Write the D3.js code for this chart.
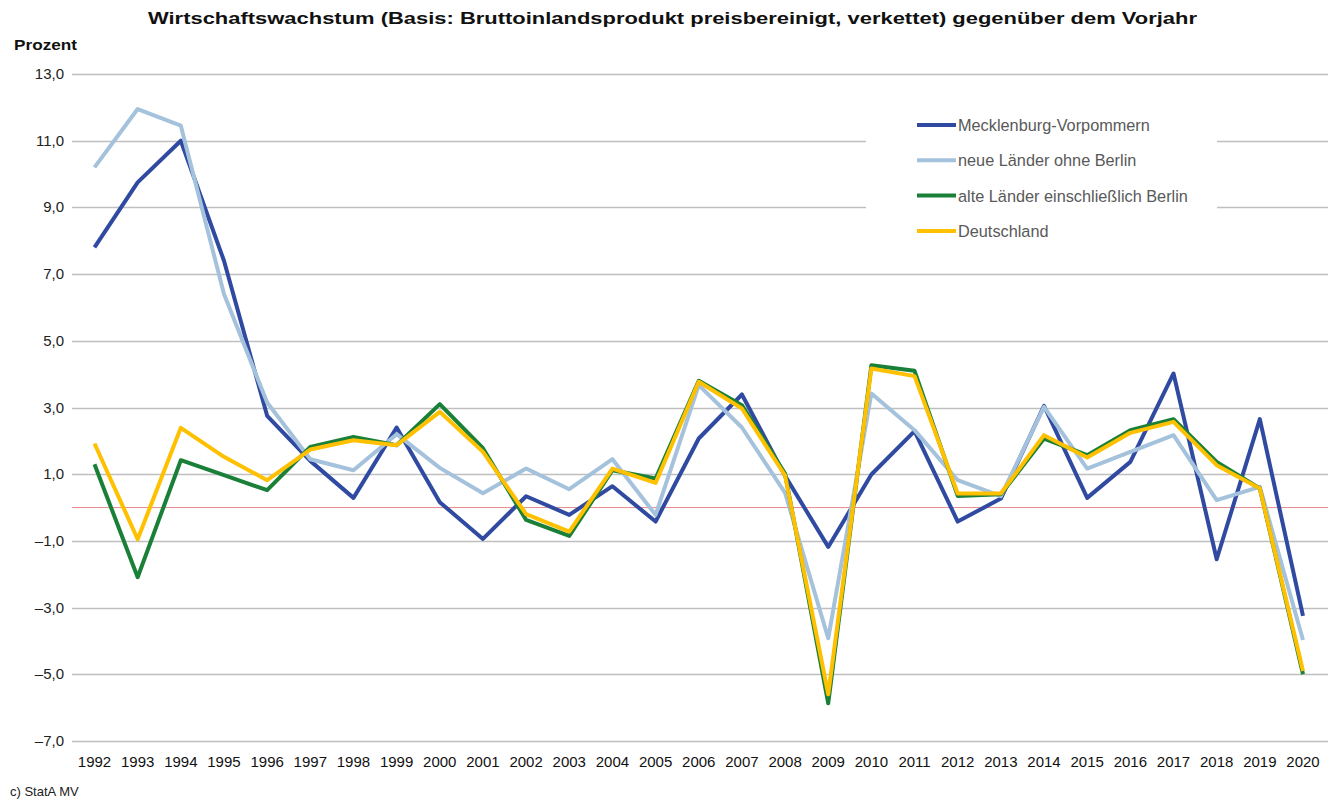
<!DOCTYPE html>
<html>
<head>
<meta charset="utf-8">
<script src="https://cdn.jsdelivr.net/npm/d3@7"></script>
<style>
  body { margin: 0; background: #fff; }
  text { font-family: "Liberation Sans", Arial, sans-serif; }
</style>
</head>
<body>
<div id="chart"></div>
<script>
var years = d3.range(1992, 2021);

var mv = [7.8, 9.75, 11.0, 7.4, 2.75, 1.4, 0.29, 2.4, 0.16, -0.94, 0.34, -0.22, 0.64, -0.42, 2.07,
          3.39, 0.95, -1.18, 0.99, 2.29, -0.42, 0.27, 3.05, 0.29, 1.37, 4.02, -1.55, 2.65, -3.25];
var neueLaender = [10.2, 11.95, 11.45, 6.4, 3.15, 1.45, 1.12, 2.2, 1.19, 0.43, 1.17, 0.55, 1.45, -0.22, 3.67,
          2.4, 0.44, -3.92, 3.42, 2.32, 0.82, 0.34, 3.02, 1.17, 1.67, 2.17, 0.22, 0.62, -3.97];
var alteLaender = [1.3, -2.09, 1.42, 0.97, 0.52, 1.82, 2.12, 1.87, 3.1, 1.78, -0.37, -0.85, 1.12, 0.87, 3.8,
          3.07, 1.02, -5.87, 4.27, 4.1, 0.35, 0.4, 2.07, 1.57, 2.32, 2.65, 1.37, 0.57, -5.0];
var deutschland = [1.92, -0.95, 2.39, 1.52, 0.82, 1.74, 2.02, 1.87, 2.87, 1.67, -0.2, -0.72, 1.17, 0.74, 3.77,
          2.97, 0.96, -5.6, 4.17, 3.94, 0.42, 0.42, 2.17, 1.5, 2.24, 2.57, 1.27, 0.57, -4.9];

var seriesNames = ["Mecklenburg-Vorpommern", "neue Länder ohne Berlin", "alte Länder einschließlich Berlin", "Deutschland"];
var seriesColors = ["#2f4aa0", "#a5c2dc", "#1a8038", "#ffc000"];
var seriesValues = [mv, neueLaender, alteLaender, deutschland];
var yTicks = [13, 11, 9, 7, 5, 3, 1, -1, -3, -5, -7];

(function() {
  var width = 1335, height = 800;
  var plotLeft = 72, plotRight = 1328, plotTop = 74, plotBottom = 741;

  var svg = d3.select("#chart").append("svg")
    .attr("width", width)
    .attr("height", height);

  var x = d3.scalePoint()
    .domain(years)
    .range([94.5, 1303]);

  var y = d3.scaleLinear()
    .domain([-7, 13])
    .range([plotBottom, plotTop]);

  var fmt = function(v) { return (v < 0 ? "\u2013" : "") + d3.format(".1f")(Math.abs(v)).replace(".", ","); };

  // title
  svg.append("text")
    .attr("x", 672.5)
    .attr("y", 24)
    .attr("text-anchor", "middle")
    .attr("textLength", 1049)
    .attr("lengthAdjust", "spacingAndGlyphs")
    .style("font-size", "17px")
    .style("font-weight", "bold")
    .attr("fill", "#111")
    .text("Wirtschaftswachstum (Basis: Bruttoinlandsprodukt preisbereinigt, verkettet) gegenüber dem Vorjahr");

  svg.append("text")
    .attr("x", 14)
    .attr("y", 50)
    .attr("textLength", 63)
    .attr("lengthAdjust", "spacingAndGlyphs")
    .style("font-size", "14px")
    .style("font-weight", "bold")
    .attr("fill", "#111")
    .text("Prozent");

  // grid
  svg.append("g").selectAll("line")
    .data(yTicks)
    .enter()
    .append("line")
      .attr("x1", plotLeft)
      .attr("x2", plotRight)
      .attr("y1", function(d) { return Math.round(y(d)) + 0.5; })
      .attr("y2", function(d) { return Math.round(y(d)) + 0.5; })
      .attr("stroke", "#bfbfbf")
      .attr("stroke-width", 1.5);

  svg.append("g").selectAll("text")
    .data(yTicks)
    .enter()
    .append("text")
      .attr("x", 64)
      .attr("y", function(d) { return y(d) + 5; })
      .attr("text-anchor", "end")
      .style("font-size", "15px")
      .attr("fill", "#222")
      .text(fmt);

  // zero line
  svg.append("line")
    .attr("x1", plotLeft)
    .attr("x2", plotRight)
    .attr("y1", y(0))
    .attr("y2", y(0))
    .attr("stroke", "#e88a8a")
    .attr("stroke-width", 1);

  // x labels
  svg.append("g").selectAll("text")
    .data(years)
    .enter()
    .append("text")
      .attr("x", function(d) { return x(d); })
      .attr("y", 767)
      .attr("text-anchor", "middle")
      .style("font-size", "15px")
      .attr("fill", "#111")
      .text(function(d) { return d; });

  // legend background
  svg.append("rect")
    .attr("x", 866)
    .attr("y", 102)
    .attr("width", 351)
    .attr("height", 146)
    .attr("fill", "#fff");

  // lines
  var line = d3.line()
    .x(function(d, i) { return x(years[i]); })
    .y(function(d) { return y(d); });

  svg.append("g").selectAll("path")
    .data(seriesValues)
    .enter()
    .append("path")
      .attr("d", line)
      .attr("fill", "none")
      .attr("stroke", function(d, i) { return seriesColors[i]; })
      .attr("stroke-width", 4)
      .attr("stroke-linejoin", "round");

  // legend
  var legend = svg.append("g").selectAll("g")
    .data(seriesNames)
    .enter()
    .append("g")
      .attr("transform", function(d, i) { return "translate(917," + (125 + i * 35.3) + ")"; });

  legend.append("line")
    .attr("x1", 0)
    .attr("x2", 39)
    .attr("stroke", function(d, i) { return seriesColors[i]; })
    .attr("stroke-width", 4);

  legend.append("text")
    .attr("x", 41)
    .attr("y", 6)
    .style("font-size", "16.3px")
    .attr("fill", "#595959")
    .text(function(d) { return d; });

  svg.append("text")
    .attr("x", 10)
    .attr("y", 796)
    .style("font-size", "13px")
    .attr("fill", "#222")
    .text("c) StatA MV");
})();
</script>
</body>
</html>
